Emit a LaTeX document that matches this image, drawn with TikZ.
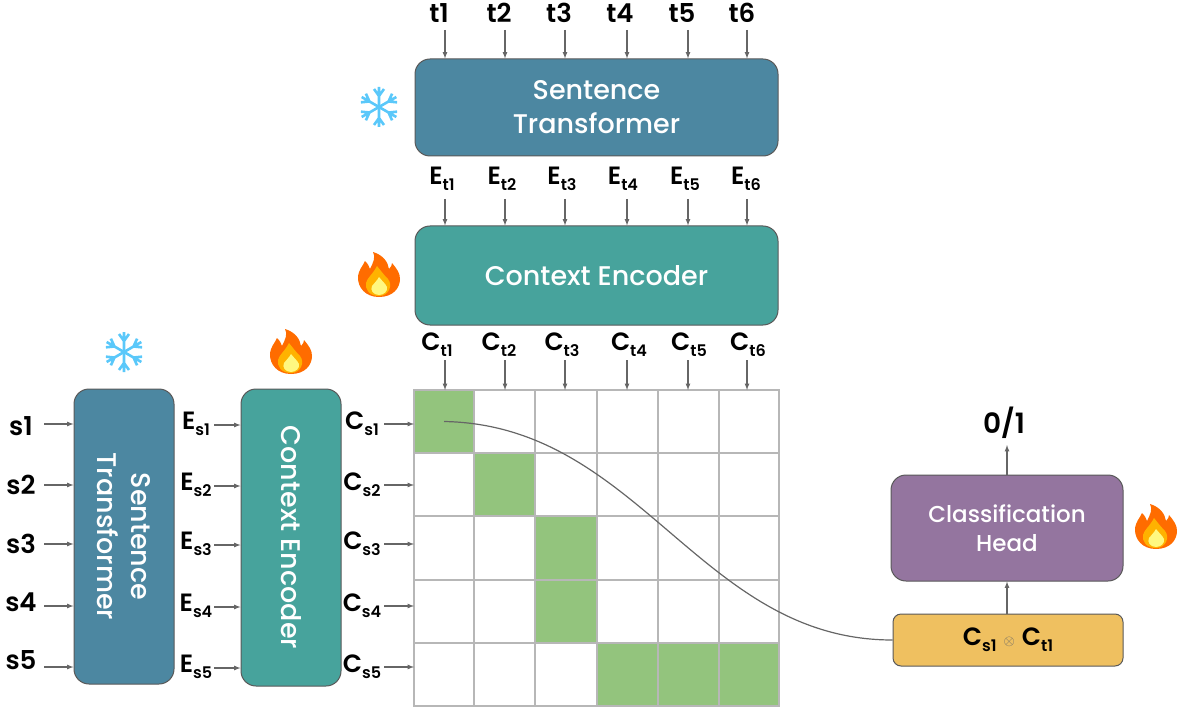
\documentclass[tikz,border=0pt]{standalone}
\usepackage{fontspec}
\setmainfont{Poppins Medium}[BoldFont={Poppins SemiBold}]
\usetikzlibrary{arrows,calc,positioning}

\definecolor{stblue}{HTML}{4C87A1}
\definecolor{ceteal}{HTML}{47A39C}
\definecolor{headpurple}{HTML}{94759F}
\definecolor{pairyellow}{HTML}{EFC060}
\definecolor{cellgreen}{HTML}{93C47D}
\definecolor{gridgray}{HTML}{B7B7B7}
\definecolor{linegray}{HTML}{666666}
\definecolor{icecyan}{HTML}{5AC8FA}

\newcommand{\sublab}[2]{{\fontsize{25}{25}\selectfont\bfseries #1}\raisebox{-6pt}{\fontsize{16}{16}\selectfont\bfseries #2}}

\begin{document}
\begin{tikzpicture}
   [x=1pt,y=-1pt,>=latex,
    block/.style={draw=black!65,line width=1pt,rounded corners=15pt,text=white,align=center,inner sep=0pt,
      font=\fontsize{27}{34}\selectfont},
    flow/.style={->,linegray,line width=1.2pt},
    tag/.style={inner sep=0pt,text=black,font=\fontsize{26}{26}\selectfont\bfseries},
    cell/.style={draw=gridgray,line width=1.2pt,inner sep=0pt,outer sep=0pt},
    flame/.pic={
      \fill[orange!85!red] (0,22) .. controls (-14,22) and (-21,12) .. (-21,3)
        .. controls (-21,-5) and (-16,-9) .. (-14,-14) .. controls (-11,-11) and (-10,-9) .. (-9,-6)
        .. controls (-6,-12) and (-3,-18) .. (-6,-23) .. controls (4,-20) and (9,-13) .. (10,-6)
        .. controls (12,-8) and (13,-10) .. (13,-12) .. controls (18,-6) and (21,-2) .. (21,4)
        .. controls (21,13) and (14,22) .. (0,22) -- cycle;
      \fill[orange!60!yellow] (0,21) .. controls (-10,21) and (-14,14) .. (-13,8)
        .. controls (-12,3) and (-6,-1) .. (-2,-9) .. controls (2,-4) and (5,0) .. (9,4)
        .. controls (14,10) and (10,21) .. (0,21) -- cycle;
      \fill[yellow!50!white] (0,20) .. controls (-6,20) and (-9,15) .. (-7,11)
        .. controls (-5,8) and (-2,6) .. (0,2) .. controls (3,6) and (6,8) .. (8,12)
        .. controls (9,16) and (5,20) .. (0,20) -- cycle;
    },
    snowflake/.pic={
      \foreach \a in {30,90,...,330}{
        \draw[icecyan,line width=2.6pt,rotate=\a] (0,0) -- (20,0)
          (11,0) -- +(7,5) (11,0) -- +(7,-5);
      }
    }]

\useasboundingbox (0,0) rectangle (1185,711);

% blocks
\node [block,fill=stblue,minimum width=363pt,minimum height=97pt] (stt) at (596.5,107.5) {Sentence\\Transformer};
\node [block,fill=ceteal,minimum width=363pt,minimum height=99pt] (cet) at (596.5,275.5) {Context Encoder};
\node [block,fill=stblue,minimum width=295pt,minimum height=100pt,rotate=-90] (sts) at (124,536.5) {Sentence\\Transformer};
\node [block,fill=ceteal,minimum width=297pt,minimum height=100pt,rotate=-90] (ces) at (291,537.5) {Context Encoder};
\node [block,fill=headpurple,minimum width=232pt,minimum height=106pt,font=\fontsize{23}{29}\selectfont] (head) at (1007,528) {Classification\\Head};
\node [block,fill=pairyellow,text=black,rounded corners=8pt,minimum width=230pt,minimum height=52pt] (pair) at (1008,640)
  {\sublab{C}{s1}\hspace{7pt}{\color{linegray}\fontsize{14}{14}\selectfont$\otimes$}\hspace{7pt}\sublab{C}{t1}};

% grid
\foreach \r/\ya/\yb in {1/390/453,2/453/516,3/516/580,4/580/643,5/643/706}{
  \foreach \c/\xa/\xb in {1/414/474,2/474/535,3/535/597,4/597/658,5/658/719,6/719/779}{
    \node [cell,minimum width={(\xb-\xa)*1pt},minimum height={(\yb-\ya)*1pt}] (c\r-\c) at ({(\xa+\xb)/2},{(\ya+\yb)/2}) {};
  }
}
\foreach \r/\c/\xa/\xb/\ya/\yb in {1/1/414/474/390/453,2/2/474/535/453/516,3/3/535/597/516/580,4/3/535/597/580/643,5/4/597/658/643/706,5/5/658/719/643/706,5/6/719/779/643/706}{
  \node [cell,fill=cellgreen,minimum width={(\xb-\xa)*1pt},minimum height={(\yb-\ya)*1pt}] (g\r-\c) at (c\r-\c) {};
}

% top labels and arrows
\foreach \i/\x/\lx/\ex/\cx in {1/445/439/442/437,2/505/499/502/499,3/565/559/562/562,4/627/620/623/629,5/688/682/685/689,6/747/742/746/748}{
  \node [tag] (t\i) at (\lx,13) {t\i};
  \coordinate (ta\i) at (\x,30);
  \draw [flow] (ta\i) -- (ta\i |- stt.north);
  \node (et\i) [inner sep=0pt] at (\ex,179) {\sublab{E}{t\i}};
  \coordinate (tb\i) at (\x,199);
  \draw [flow] (tb\i) -- (tb\i |- cet.north);
  \node (ct\i) [inner sep=0pt] at (\cx,345) {\sublab{C}{t\i}};
  \coordinate (tc\i) at (\x,360);
  \draw [flow] (tc\i) -- (tc\i |- c1-1.north);
}

% left labels and arrows
\foreach \i/\y/\ly/\ey in {1/424/426/425,2/485/485/486,3/544/544/545,4/606/602/607,5/667/660/668}{
  \node [tag] (s\i) at (21,\ly) {s\i};
  \coordinate (sa\i) at (44,\y);
  \draw [flow] (sa\i) -- (sa\i -| sts.south);
  \node (es\i) [inner sep=0pt] at (196,\ey-1) {\sublab{E}{s\i}};
  \coordinate (sb\i) at (214,\ey);
  \draw [flow] (sb\i) -- (sb\i -| ces.south);
  \node (cs\i) [inner sep=0pt] at (362,\y) {\sublab{C}{s\i}};
  \coordinate (sc\i) at (384,\y);
  \draw [flow] (sc\i) -- (sc\i -| c1-1.west);
}

% pair and output
\draw [linegray,line width=1.2pt] (c1-1.center) .. controls (640,425) and (700,640) .. (pair.west);
\draw [flow] (pair.north -| head.south) -- (head.south);
\node [tag,font=\fontsize{28}{28}\selectfont\bfseries] (out) at (1004,423) {0/1};
\coordinate (outa) at (1007,445);
\draw [flow] (outa |- head.north) -- (outa);

% icons
\pic at (379,107) {snowflake};
\pic at (379,275) {flame};
\pic at (124,352) {snowflake};
\pic at (291,352) {flame};
\pic at (1156,527) {flame};
\end{tikzpicture}
\end{document}
